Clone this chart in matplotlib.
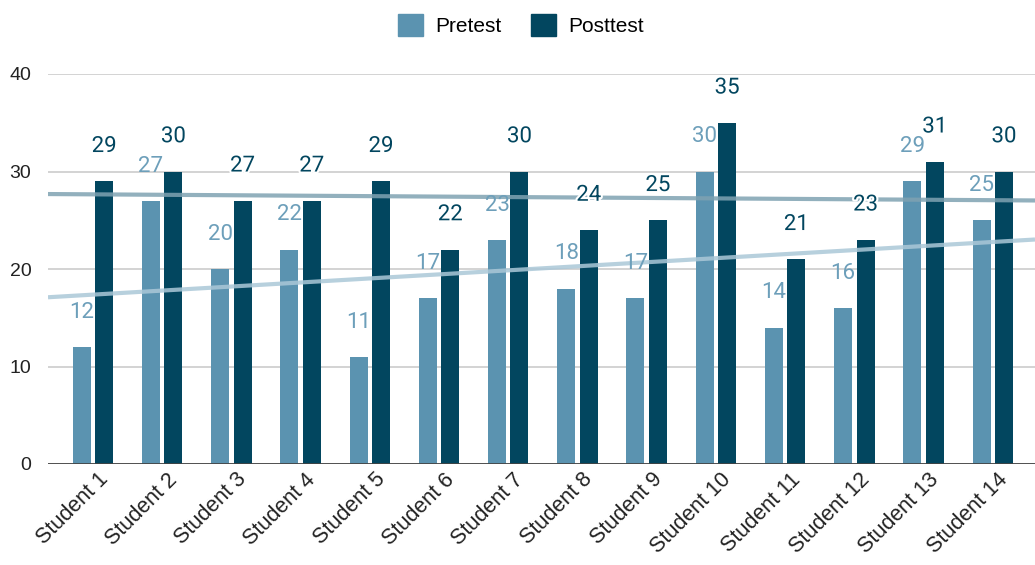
import numpy as np
import matplotlib.pyplot as plt
import matplotlib.patheffects as pe
import matplotlib.transforms as mtransforms
from matplotlib.patches import Patch

# scores per student
students = ["Student %d" % i for i in range(1, 15)]
pretest = [12, 27, 20, 22, 11, 17, 23, 18, 17, 30, 14, 16, 29, 25]
posttest = [29, 30, 27, 27, 29, 22, 30, 24, 25, 35, 21, 23, 31, 30]

pre_color = "#5b93b0"
post_color = "#02465f"

fig = plt.figure(figsize=(10.35, 5.65), dpi=100)
ax = fig.add_axes([48 / 1035, 101 / 565, 1 - 48 / 1035, 390 / 565])

x = np.arange(len(students))
w = 0.26
off = 0.162
ax.bar(x - off, pretest, w, color=pre_color, zorder=2)
ax.bar(x + off, posttest, w, color=post_color, zorder=2)

# linear trendlines over the whole axis width
xlim = (-0.65, 13.61)
xs = np.array(xlim)
for vals, col in [(pretest, "#abc8d8"), (posttest, "#7fa2b2")]:
    k, b = np.polyfit(x, vals, 1)
    ax.plot(xs, k * xs + b, color=col, lw=3, alpha=0.85, zorder=3, solid_capstyle="butt")

# value labels
for xi, v in zip(x, pretest):
    ax.annotate(str(v), (xi - off, v), xytext=(0, 25), textcoords="offset points",
                ha="center", va="center", fontsize=16, color="#6d9fba",
                family="Roboto", zorder=4, annotation_clip=False)
for xi, v in zip(x, posttest):
    ax.annotate(str(v), (xi + off, v), xytext=(0, 25), textcoords="offset points",
                ha="center", va="center", fontsize=16, color=post_color,
                family="Roboto", zorder=4, annotation_clip=False,
                path_effects=[pe.withStroke(linewidth=3, foreground="white")])

ax.set_xlim(*xlim)
ax.set_ylim(0, 40)
ax.set_yticks([0, 10, 20, 30, 40])
ax.yaxis.grid(True, color="#cccccc", lw=1.2, zorder=0)
ax.axhline(0, color="#444444", lw=2, zorder=3)
for s in ax.spines.values():
    s.set_visible(False)
ax.tick_params(axis="y", length=0, labelsize=14, labelcolor="#222222", pad=12)
ax.tick_params(axis="x", length=0, labelsize=15.5, labelcolor="#222222", pad=9)
ax.set_xticks(x)
ax.set_xticklabels(students, rotation=45, ha="right", va="center",
                   rotation_mode="anchor", family="Liberation Sans")
shift = mtransforms.ScaledTranslation(0.12, 0, fig.dpi_scale_trans)
for lab in ax.get_xticklabels():
    lab.set_transform(lab.get_transform() + shift)
for lab in ax.get_yticklabels():
    lab.set_family("Liberation Sans")

handles = [Patch(color=pre_color, label="Pretest"), Patch(color=post_color, label="Posttest")]
fig.legend(handles=handles, loc="upper center", bbox_to_anchor=(0.503, 1.008), ncol=2,
           frameon=False, handlelength=1.2, handleheight=1.2, columnspacing=1.4,
           handletextpad=0.6, prop={"family": "Liberation Sans", "size": 15})

fig.savefig("out.png", dpi=100)
